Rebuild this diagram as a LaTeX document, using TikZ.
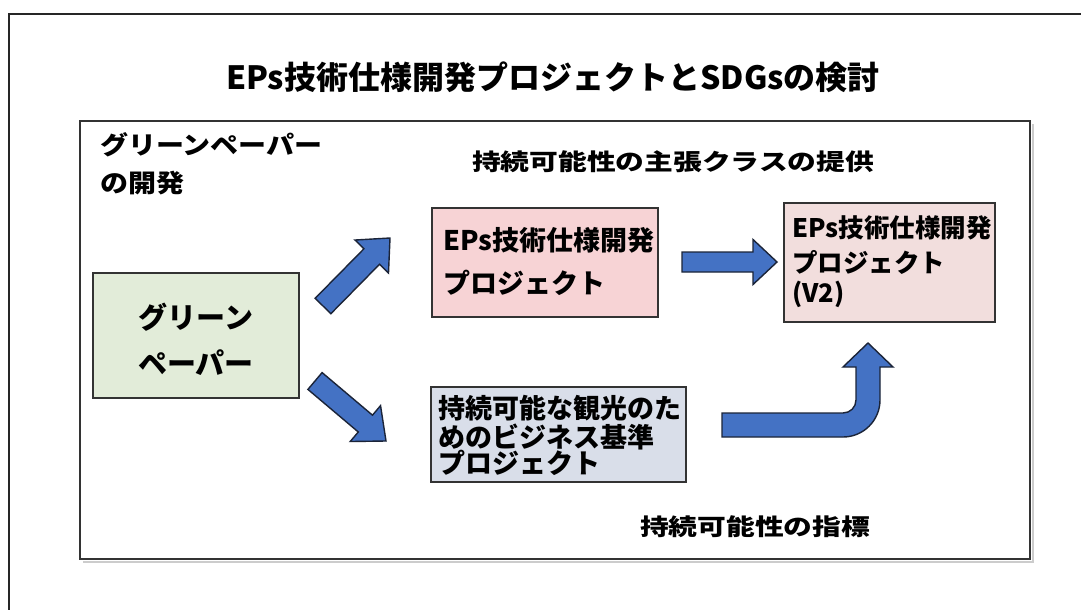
\documentclass[tikz,border=0pt]{standalone}
\usepackage{fontspec}
\setmainfont{Noto Sans CJK JP}
\newfontfamily\jpwide{Noto Sans CJK JP}[FakeStretch=1.25]
\newfontfamily\jpmid{Noto Sans CJK JP}[FakeStretch=1.12]
\usetikzlibrary{calc}
\definecolor{arrowblue}{HTML}{4472C4}
\definecolor{arrowline}{HTML}{1B2438}
\definecolor{boxline}{HTML}{333333}
\definecolor{greenfill}{HTML}{E2ECD9}
\definecolor{pinkfill}{HTML}{F7D3D5}
\definecolor{pinkfilltwo}{HTML}{F2DEDD}
\definecolor{bluefill}{HTML}{D9DEE9}
\tikzset{
  txt/.style={inner sep=0pt, anchor=base west, text=black},
  fsz/.style={font=\bfseries\fontsize{#1pt}{#1pt}\selectfont},
  boxst/.style={draw=boxline, line width=1.6pt, inner sep=0pt, rectangle},
  blk/.style={fill=arrowblue, draw=arrowline, line width=1.4pt, line join=miter},
  frame/.style={draw=black!80, line width=1.8pt},
}
\newcommand{\blockarrow}[5]{%
  \coordinate (tmpH) at ($(#2)!#5!(#1)$);
  \draw[blk] ($(#1)!#3!90:(#2)$) -- ($(tmpH)!#3!-90:(#1)$) -- ($(tmpH)!#4!-90:(#1)$)
     -- (#2) -- ($(tmpH)!#4!90:(#1)$) -- ($(tmpH)!#3!90:(#1)$) -- ($(#1)!#3!-90:(#2)$) -- cycle;}
\begin{document}
\begin{tikzpicture}[x=1pt,y=-1pt]
\useasboundingbox[fill=white] (0,0) rectangle (1081,610);
% outer frame
\draw[line width=1.4pt, black!85] (9,610) -- (9,14) -- (1081,14);
% title
\node[txt, anchor=base, fsz=32] (title) at (553,89.2) {EPs技術仕様開発プロジェクトとSDGsの検討};
% inner frame with soft shadow
\draw[black!20, line width=2.5pt] (83,562) -- (1033,562) -- (1033,124);
\draw[frame] (80,121) rectangle (1030,559);
% labels
\node[txt, fsz=25] (gplabel1) at (100,154.5) {\jpmid グリーンペーパー};
\node[txt, fsz=25] (gplabel2) at (100,192.5) {\jpmid の開発};
\node[txt, fsz=23] (claim) at (472,170.7) {\jpwide 持続可能性の主張クラスの提供};
\node[txt, fsz=23] (indic) at (640,535.7) {\jpwide 持続可能性の指標};
% boxes
\node[boxst, fill=greenfill, minimum width=206pt, minimum height=125pt] (green) at (196,335.5) {};
\node[boxst, fill=pinkfill, minimum width=226pt, minimum height=109pt] (eps) at (545,262.5) {};
\node[boxst, fill=pinkfilltwo, minimum width=211pt, minimum height=119pt] (epstwo) at (889.5,262.5) {};
\node[boxst, fill=bluefill, minimum width=255pt, minimum height=95pt] (biz) at (558.5,434.5) {};
% box texts
\node[txt, anchor=base, fsz=29] (g1) at (196,328) {グリーン};
\node[txt, anchor=base, fsz=29] (g2) at (196,374) {ペーパー};
\node[txt, fsz=27] (e1) at (443,250.3) {EPs技術仕様開発};
\node[txt, fsz=27] (e2) at (443,293.3) {プロジェクト};
\node[txt, fsz=25.5] (f1) at (792,237.7) {EPs技術仕様開発};
\node[txt, fsz=25.5] (f2) at (792,272.7) {プロジェクト};
\node[txt, fsz=25.5] (f3) at (792,302.7) {(V2)};
\node[txt, fsz=27] (b1) at (438,418.3) {持続可能な観光のた};
\node[txt, fsz=27] (b2) at (438,447.3) {めのビジネス基準};
\node[txt, fsz=27] (b3) at (438,473.3) {プロジェクト};
% block arrows
\coordinate (a1s) at (323,306); \coordinate (a1e) at (390,238);
\coordinate (a2s) at (315,381); \coordinate (a2e) at (386,441);
\coordinate (a3s) at (682,262); \coordinate (a3e) at (777,262);
\blockarrow{a1s}{a1e}{11pt}{23.5pt}{26pt}
\blockarrow{a2s}{a2e}{11pt}{23.5pt}{27pt}
\blockarrow{a3s}{a3e}{10pt}{22.5pt}{24pt}
% bent arrow
\coordinate (u0) at (722,425);
\begin{scope}[shift={(u0)}]
\draw[blk] (0,-12) -- (121,-12) .. controls (128.2,-12) and (134,-17.8) .. (134,-25)
  -- (134,-58) -- (121,-58) -- (146,-82) -- (171,-58) -- (158,-58) -- (158,-25)
  .. controls (158,-4.6) and (141.4,12) .. (121,12) -- (0,12) -- cycle;
\end{scope}
\end{tikzpicture}
\end{document}
